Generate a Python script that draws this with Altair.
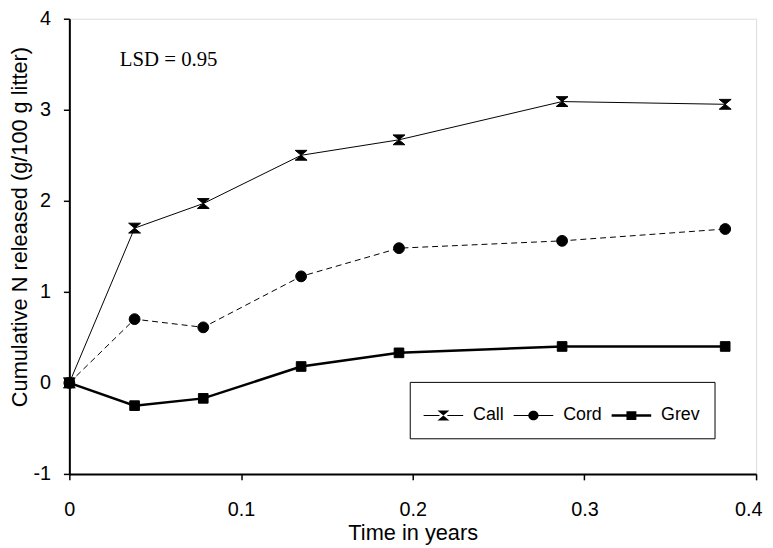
import altair as alt
import pandas as pd

# ---- data ----
series = ["Call", "Cord", "Grev"]
years = [0, 0.038, 0.078, 0.135, 0.192, 0.287, 0.382]
call = [0, 1.70, 1.97, 2.50, 2.67, 3.09, 3.06]
cord = [0, 0.70, 0.61, 1.17, 1.48, 1.56, 1.69]
grev = [0, -0.25, -0.17, 0.18, 0.33, 0.40, 0.40]
x_ticks = [0, 0.1, 0.2, 0.3, 0.4]
y_ticks = [-1, 0, 1, 2, 3, 4]
lsd_text = ["LSD = 0.95"]

rows = []
for name, vals in zip(series, [call, cord, grev]):
    for t, v in zip(years, vals):
        rows.append({"series": name, "t": t, "n": v})
df = pd.DataFrame(rows)

FONT = "Liberation Sans"

x = alt.X(
    "t:Q",
    scale=alt.Scale(domain=[0, 0.4], nice=False, zero=False),
    axis=alt.Axis(
        values=x_ticks, title="Time in years", grid=False, labelFlush=False,
        labelExpr="toString(datum.value)",
        labelOffset={"condition": {"test": "datum.value >= 0.39", "value": -8}, "value": 0},
        labelFont=FONT, labelFontSize=20, labelColor="black", labelPadding=20,
        titleFont=FONT, titleFontSize=22, titleFontWeight="normal", titleColor="black",
        titleBaseline="middle", titleY=59,
        domainColor="black", domainWidth=2, tickColor="black", tickWidth=1.5, tickSize=6,
    ),
)
y = alt.Y(
    "n:Q",
    scale=alt.Scale(domain=[-1, 4], nice=False, zero=False),
    axis=alt.Axis(
        values=y_ticks, title="Cumulative N released (g/100 g litter)", grid=False,
        labelExpr="toString(datum.value)",
        labelFont=FONT, labelFontSize=20, labelColor="black", labelPadding=13,
        titleFont=FONT, titleFontSize=22, titleFontWeight="normal", titleColor="black",
        titleAngle=270, titleBaseline="middle", titleAlign="center", titleX=-50, titleY=210,
        domainColor="black", domainWidth=2, tickColor="black", tickWidth=1.5, tickSize=6,
    ),
)

line_styles = {"Call": dict(strokeWidth=1), "Cord": dict(strokeWidth=1, strokeDash=[6, 4]), "Grev": dict(strokeWidth=2.5)}
line_layers = [
    alt.Chart(df).transform_filter(alt.datum.series == s).mark_line(color="black", **line_styles[s]).encode(x=x, y=y)
    for s in series
]

# plot markers
hourglass = "M-1,-0.83L1,-0.83L-1,0.83L1,0.83Z"
points = alt.Chart(df).mark_point(filled=True, color="black", stroke="black", strokeWidth=1, opacity=1).encode(
    x=x, y=y,
    shape=alt.Shape("series:N", scale=alt.Scale(domain=series, range=[hourglass, "circle", "square"]), legend=None),
    size=alt.Size("series:N", scale=alt.Scale(domain=series, range=[144, 95, 130]), legend=None),
)

# legend symbols: marker with a line through it (all drawn as filled shapes)
leg_call = ("M-1,-0.025H-0.2V0.025H-1Z M0.2,-0.025H1V0.025H0.2Z "
            "M-0.3,-0.25L0.3,-0.25L-0.3,0.25L0.3,0.25Z")
leg_cord = ("M-1,-0.025H-0.25V0.025H-1Z M0.25,-0.025H1V0.025H0.25Z "
            "M-0.26,0A0.26,0.24 0 1,1 0.26,0A0.26,0.24 0 1,1 -0.26,0Z")
leg_grev = ("M-1,-0.06H-0.25V0.06H-1Z M0.25,-0.06H1V0.06H0.25Z "
            "M-0.25,-0.22H0.25V0.22H-0.25Z")

legend = alt.Legend(
    title=None, orient="none", legendX=344, legendY=367, direction="horizontal",
    strokeColor="black", fillColor="white", padding=14, cornerRadius=0,
    labelFont=FONT, labelFontSize=18, labelColor="black", labelOffset=10,
    columnPadding=9, symbolSize=1600, symbolOpacity=1, symbolStrokeWidth=0,
    symbolFillColor="black", symbolStrokeColor="black",
)
legend_layer = alt.Chart(df).mark_point(filled=True, color="black", opacity=0, size=1600).encode(
    x=x, y=y,
    shape=alt.Shape("series:N", scale=alt.Scale(domain=series, range=[leg_call, leg_cord, leg_grev]), legend=legend),
)

lsd = alt.Chart(pd.DataFrame({"label": lsd_text})).mark_text(
    align="left", baseline="middle", font="Liberation Serif", fontSize=21, color="black"
).encode(x=alt.value(51), y=alt.value(42), text="label:N")

chart = alt.layer(*line_layers, points, legend_layer, lsd).resolve_scale(
    shape="independent"
).properties(
    width=694, height=460,
    autosize=alt.AutoSizeParams(type="none"),
    padding={"left": 62, "top": 8, "right": 9, "bottom": 70},
).configure_view(stroke="black", strokeWidth=2).configure(background="white")

chart.save("out.html", embed_options={"renderer": "svg", "actions": False})
